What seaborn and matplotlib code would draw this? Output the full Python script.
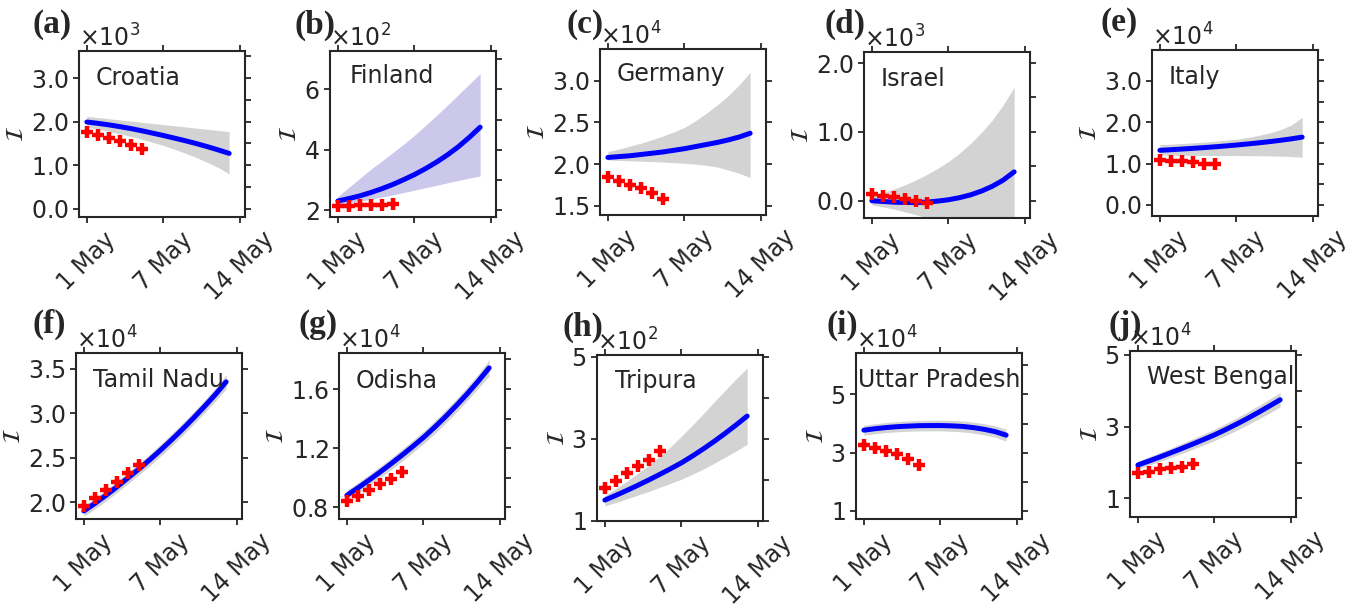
import matplotlib
matplotlib.use("Agg")
import matplotlib.pyplot as plt
from matplotlib.ticker import ScalarFormatter, MultipleLocator, FixedLocator
import seaborn as sns

# ---------------------------------------------------------------- data
pred_days = list(range(14))   # model projection, 1 May .. 14 May
obs_days = list(range(6))     # reported active cases

xtick_pos = [0, 7, 14]
xtick_labels = ["1 May", "7 May", "14 May"]

croatia_mean = [1990, 1960, 1925, 1885, 1840, 1790, 1735, 1680, 1620, 1560, 1495, 1425, 1350, 1270]
croatia_upper = [2120, 2093, 2066, 2039, 2012, 1985, 1958, 1931, 1904, 1877, 1850, 1823, 1796, 1770]
croatia_lower = [1870, 1825, 1775, 1720, 1660, 1595, 1525, 1450, 1365, 1275, 1175, 1065, 945, 800]
croatia_obs = [1750, 1690, 1630, 1560, 1460, 1360]

finland_mean = [230, 238, 247, 258, 270.5, 284.5, 300.5, 317.5, 337, 358.5, 382.5, 409.5, 440.5, 474.5]
finland_upper = [245, 275, 305, 335, 362, 390, 418, 448, 480, 513, 547, 582, 617, 652]
finland_lower = [217, 223, 229, 236, 243, 250, 258, 266, 274, 282, 290, 298, 306, 313]
finland_obs = [215, 215, 216, 216, 217, 219]

germany_mean = [20800, 20900, 21000, 21150, 21300, 21450, 21650, 21850, 22100, 22350, 22600, 22900, 23250, 23700]
germany_upper = [21500, 21800, 22150, 22500, 22900, 23350, 23850, 24400, 25200, 26100, 27100, 28200, 29500, 31000]
germany_lower = [20500, 20450, 20400, 20350, 20300, 20250, 20180, 20100, 20000, 19850, 19650, 19300, 18900, 18400]
germany_obs = [18400, 18000, 17500, 17100, 16500, 15800]

israel_mean = [0, -10, -20, -25, -25, -20, -5, 15, 45, 85, 140, 210, 300, 420]
israel_upper = [80, 120, 170, 230, 300, 380, 470, 570, 690, 830, 990, 1170, 1390, 1650]
israel_lower = [-60, -90, -120, -160, -200, -250, -300, -350, -400, -450, -500, -550, -600, -650]
israel_obs = [100, 70, 50, 25, 0, -25]

italy_mean = [13200, 13350, 13510, 13680, 13860, 14050, 14260, 14490, 14740, 15010, 15300, 15620, 15980, 16400]
italy_upper = [14600, 14700, 14850, 15000, 15200, 15400, 15650, 15900, 16300, 16800, 17400, 18200, 19300, 21200]
italy_lower = [12100, 12050, 12000, 11980, 11960, 11950, 11940, 11930, 11920, 11900, 11850, 11800, 11700, 11500]
italy_obs = [10800, 10700, 10500, 10300, 10000, 9800]

tamil_mean = [19000, 19850, 20750, 21700, 22700, 23700, 24750, 25850, 27000, 28200, 29450, 30750, 32100, 33550]
tamil_upper = [19600, 20460, 21370, 22330, 23340, 24350, 25410, 26520, 27680, 28890, 30150, 31460, 32830, 34350]
tamil_lower = [18400, 19240, 20130, 21070, 22060, 23050, 24090, 25180, 26320, 27510, 28750, 30040, 31370, 32750]
tamil_obs = [19600, 20500, 21400, 22300, 23300, 24200]

odisha_mean = [8800, 9300, 9820, 10360, 10920, 11500, 12100, 12720, 13400, 14120, 14880, 15680, 16530, 17430]
odisha_upper = [9150, 9660, 10190, 10740, 11310, 11900, 12510, 13140, 13830, 14560, 15330, 16140, 17000, 17980]
odisha_lower = [8450, 8940, 9450, 9980, 10530, 11100, 11690, 12300, 12970, 13680, 14430, 15220, 16060, 16880]
odisha_obs = [8430, 8790, 9170, 9580, 9920, 10350]

tripura_mean = [150, 161.5, 173.5, 186, 199, 212.5, 226.5, 241, 257.5, 275, 293.5, 313, 333.5, 355]
tripura_upper = [161, 178, 196, 215, 235, 256, 280, 306, 333, 361, 390, 418, 446, 472]
tripura_lower = [136, 144, 153, 162, 171, 181, 191, 201, 213, 226, 240, 255, 270, 286]
tripura_obs = [180, 197, 215, 233, 249, 270]

up_mean = [37700, 38200, 38600, 38900, 39100, 39250, 39300, 39300, 39200, 39000, 38600, 38000, 37200, 36000]
up_upper = [39400, 39920, 40340, 40660, 40880, 41050, 41120, 41140, 41060, 40880, 40500, 39920, 39140, 38100]
up_lower = [36000, 36480, 36860, 37140, 37320, 37450, 37480, 37460, 37340, 37120, 36700, 36080, 35260, 33900]
up_obs = [32600, 31500, 30400, 29400, 27700, 25800]

wb_mean = [19300, 20400, 21530, 22700, 23900, 25130, 26400, 27700, 29150, 30670, 32270, 33950, 35710, 37500]
wb_upper = [20400, 21570, 22770, 24010, 25280, 26580, 27920, 29290, 30810, 32400, 34070, 35820, 37660, 39500]
wb_lower = [18200, 19230, 20290, 21390, 22520, 23680, 24880, 26110, 27490, 28940, 30470, 32080, 33760, 35500]
wb_obs = [17000, 17400, 18100, 18600, 18800, 19500]

# ---------------------------------------------------------------- styling
sns.set_style("ticks")
plt.rcParams["font.family"] = ["DejaVu Sans"]
plt.rcParams["axes.linewidth"] = 1.5
plt.rcParams["xtick.major.width"] = 1.3
plt.rcParams["ytick.major.width"] = 1.3
plt.rcParams["ytick.minor.width"] = 1.3
plt.rcParams["xtick.major.size"] = 4
plt.rcParams["ytick.major.size"] = 4
plt.rcParams["ytick.minor.size"] = 4

FS = 17
W, H = 1358, 605
fig = plt.figure(figsize=(W / 100, H / 100), dpi=100)
fig.patch.set_facecolor("white")

GREY = "#d3d3d3"
LAVENDER = "#cbc8ec"


class FixedFormatter10(ScalarFormatter):
    """Scientific formatter with a fixed mantissa format."""

    def __init__(self, fmt):
        super().__init__(useMathText=True, useOffset=False)
        self._fixed = fmt
        self.set_powerlimits((0, 0))

    def _set_format(self):
        self.format = r"$\mathdefault{%s}$" % self._fixed


# letter, name, mean, upper, lower, obs, band colour, yticks, fmt, ylim,
# right-side tick step, axes box (left, top px), letter pos (px), name pos
panels = [
    ("(a)", "Croatia", croatia_mean, croatia_upper, croatia_lower, croatia_obs, GREY,
     [0, 1000, 2000, 3000], "%1.1f", (-190, 3620), 500, (79, 51), (33, 25), (0.10, 0.84)),
    ("(b)", "Finland", finland_mean, finland_upper, finland_lower, finland_obs, LAVENDER,
     [200, 400, 600], "%d", (177, 727), 100, (330, 51), (294, 25), (0.12, 0.85)),
    ("(c)", "Germany", germany_mean, germany_upper, germany_lower, germany_obs, GREY,
     [15000, 20000, 25000, 30000], "%1.1f", (13900, 33800), 5000, (600, 49), (567, 24), (0.10, 0.85)),
    ("(d)", "Israel", israel_mean, israel_upper, israel_lower, israel_obs, GREY,
     [0, 1000, 2000], "%1.1f", (-250, 2160), 500, (864, 52), (825, 24), (0.10, 0.835)),
    ("(e)", "Italy", italy_mean, italy_upper, italy_lower, italy_obs, GREY,
     [0, 10000, 20000, 30000], "%1.1f", (-2700, 37500), 5000, (1152, 50), (1100, 22), (0.10, 0.84)),
    ("(f)", "Tamil Nadu", tamil_mean, tamil_upper, tamil_lower, tamil_obs, GREY,
     [20000, 25000, 30000, 35000], "%1.1f", (18100, 36800), 5000, (76, 353), (33, 324), (0.10, 0.836)),
    ("(g)", "Odisha", odisha_mean, odisha_upper, odisha_lower, odisha_obs, GREY,
     [8000, 12000, 16000], "%1.1f", (7200, 18440), 2000, (339, 353), (298, 324), (0.10, 0.83)),
    ("(h)", "Tripura", tripura_mean, tripura_upper, tripura_lower, tripura_obs, GREY,
     [100, 300, 500], "%d", (99, 504), 100, (597, 355), (562, 327), (0.11, 0.844)),
    ("(i)", "Uttar Pradesh", up_mean, up_upper, up_lower, up_obs, GREY,
     [10000, 30000, 50000], "%d", (7100, 64300), 10000, (856, 353), (827, 325), (0.01, 0.84)),
    ("(j)", "West Bengal", wb_mean, wb_upper, wb_lower, wb_obs, GREY,
     [10000, 30000, 50000], "%d", (4800, 51100), 10000, (1130, 351), (1109, 325), (0.10, 0.843)),
]

AX_W, AX_H = 166, 166

for (letter, name, mean, upper, lower, obs, band, yticks, fmt, ylim, rstep,
     (left, top), (lx, ly), (nx, ny)) in panels:
    ax = fig.add_axes([left / W, 1 - (top + AX_H) / H, AX_W / W, AX_H / H])

    ax.fill_between(pred_days, lower, upper, color=band, lw=0, zorder=1)
    sns.lineplot(x=pred_days, y=mean, ax=ax, color="blue", lw=3.6, zorder=3)
    sns.scatterplot(x=obs_days, y=obs, ax=ax, marker="+", s=80, linewidth=3.2,
                    color="red", zorder=4)

    ax.set_xlim(-0.72, 14.45)
    ax.set_ylim(*ylim)
    ax.set_xticks(xtick_pos)
    ax.set_xticklabels(xtick_labels, rotation=45, fontsize=FS)
    ax.yaxis.set_major_locator(FixedLocator(yticks))
    ax.yaxis.set_major_formatter(FixedFormatter10(fmt))
    ax.yaxis.set_minor_locator(MultipleLocator(rstep))
    ax.tick_params(axis="y", which="major", labelsize=FS, left=True, right=True)
    ax.tick_params(axis="y", which="minor", left=False, right=True)
    ax.tick_params(axis="x", which="major", top=True, bottom=True)
    ax.yaxis.get_offset_text().set_fontsize(FS)
    ax.set_ylabel(r"$\mathcal{I}$", fontsize=FS, labelpad=2)
    ax.set_xlabel("")

    for sp in ax.spines.values():
        sp.set_visible(True)
        sp.set_linewidth(1.5)

    ax.text(nx, ny, name, transform=ax.transAxes, fontsize=FS,
            ha="left", va="center", zorder=5)

    fig.text(lx / W, 1 - ly / H, letter, fontsize=24, fontweight="bold",
             family=["Liberation Serif", "DejaVu Serif"], ha="left", va="center")

fig.savefig("out.png", dpi=100, facecolor="white")
